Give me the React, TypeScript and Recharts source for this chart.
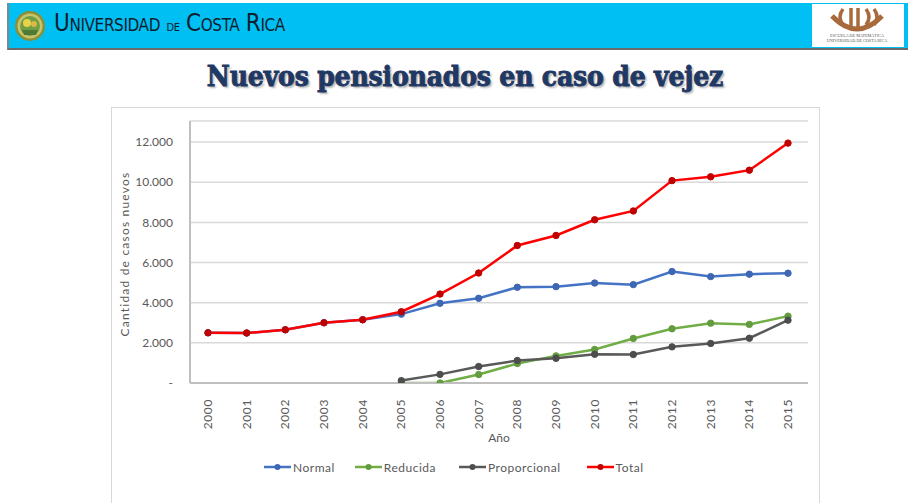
import React from 'react';
import { LineChart, Line, XAxis, YAxis, CartesianGrid, Legend } from 'recharts';

const years = ['2000','2001','2002','2003','2004','2005','2006','2007','2008','2009','2010','2011','2012','2013','2014','2015'];
const normal = [2500, 2490, 2650, 3000, 3150, 3430, 3970, 4220, 4770, 4800, 4980, 4900, 5550, 5300, 5420, 5470];
const reducida = [null, null, null, null, null, 0, 0, 420, 970, 1350, 1670, 2220, 2700, 2980, 2920, 3330];
const proporcional = [null, null, null, null, null, 120, 430, 820, 1120, 1230, 1430, 1420, 1800, 1970, 2230, 3130];
const total = [2500, 2490, 2650, 3000, 3150, 3550, 4430, 5480, 6850, 7350, 8130, 8570, 10080, 10270, 10600, 11950];
const yTicks = [0, 2000, 4000, 6000, 8000, 10000, 12000];

const series = [
  { key: 'Normal', values: normal, color: '#4472C4', dot: '#3d67b3' },
  { key: 'Reducida', values: reducida, color: '#70AD47', dot: '#639c3e' },
  { key: 'Proporcional', values: proporcional, color: '#595959', dot: '#4d4d4d' },
  { key: 'Total', values: total, color: '#FF0000', dot: '#c00000' },
];

const data = years.map((y, i) => {
  const row: any = { year: y };
  series.forEach((s) => { row[s.key] = s.values[i]; });
  return row;
});

const FONT = 'Lato, "Open Sans", sans-serif';
const TEXT = '#595959';

const fmt = (v: number) => (v === 0 ? '-' : v.toLocaleString('de-DE'));

const XTick = (props: any) => {
  const { x, y, payload } = props;
  return (
    <text
      x={0}
      y={0}
      transform={`translate(${x + 4},${y + 8}) rotate(-90)`}
      textAnchor="end"
      fontSize={12}
      fill={TEXT}
      fontFamily={FONT}
      letterSpacing={0.6}
    >
      {payload.value}
    </text>
  );
};

const YLabel = (props: any) => {
  const vb = props.viewBox || {};
  const cx = 17;
  const cy = (vb.y || 0) + (vb.height || 0) / 2 + 2;
  return (
    <text
      x={0}
      y={0}
      transform={`translate(${cx},${cy}) rotate(-90)`}
      textAnchor="middle"
      fontSize={12}
      fill={TEXT}
      fontFamily={FONT}
      letterSpacing={1.2}
    >
      Cantidad de casos nuevos
    </text>
  );
};

const XLabel = (props: any) => {
  const vb = props.viewBox || {};
  const cx = (vb.x || 0) + (vb.width || 0) / 2;
  return (
    <text x={cx} y={(vb.y || 0) + 59} textAnchor="middle" fontSize={12} fill={TEXT} fontFamily={FONT}>
      Año
    </text>
  );
};

const LegendContent = () => (
  <div style={{ display: 'flex', alignItems: 'center', height: 20, fontFamily: FONT, fontSize: 12, color: TEXT, whiteSpace: 'nowrap' }}>
    {series.map((s, i) => (
      <div key={s.key} style={{ display: 'flex', alignItems: 'center', marginRight: i === 0 ? 20 : i === 1 ? 23 : 26 }}>
        <svg width={27} height={10} style={{ marginRight: 2 }}>
          <line x1={0} y1={5} x2={27} y2={5} stroke={s.color} strokeWidth={2.5} />
          <circle cx={13.5} cy={5} r={3} fill={s.dot} />
        </svg>
        <span style={{ letterSpacing: 0.5 }}>{s.key}</span>
      </div>
    ))}
  </div>
);

const Seal = () => (
  <svg width={32} height={32} viewBox="0 0 32 32">
    <circle cx={16} cy={16} r={15} fill="#8a8f3a" />
    <circle cx={16} cy={16} r={12.5} fill="#c9c46a" />
    <circle cx={16} cy={16} r={10} fill="#6f9e45" />
    <circle cx={13} cy={13} r={4} fill="#e8d24a" />
    <path d="M8 20 L24 20 L22 25 L10 25 Z" fill="#4f7a34" />
    <circle cx={20} cy={14} r={3} fill="#d9b84a" />
  </svg>
);

const MathLogo = () => (
  <svg width={90} height={43} viewBox="0 0 90 43">
    <path d="M20 12 Q45 38 70 12" stroke="#a86a3c" strokeWidth={5} fill="none" />
    <path d="M31 5 Q25 13 31 21" stroke="#a86a3c" strokeWidth={3.5} fill="none" />
    <line x1={39} y1={4} x2={39} y2={22} stroke="#a86a3c" strokeWidth={3.5} />
    <line x1={46} y1={4} x2={46} y2={23} stroke="#a86a3c" strokeWidth={3.5} />
    <path d="M54 5 Q60 13 54 21" stroke="#a86a3c" strokeWidth={3.5} fill="none" />
    <path d="M62 5 Q68 13 62 21" stroke="#a86a3c" strokeWidth={3.5} fill="none" />
    <text x={45} y={33} textAnchor="middle" fontSize={4.2} fill="#555" fontFamily="Liberation Serif, serif">ESCUELA DE MATEMÁTICA</text>
    <text x={45} y={38} textAnchor="middle" fontSize={4.2} fill="#555" fontFamily="Liberation Serif, serif">UNIVERSIDAD DE COSTA RICA</text>
  </svg>
);

export default function App() {
  return (
    <div style={{ position: 'absolute', left: 0, top: 0, width: 910, height: 503, background: '#ffffff', overflow: 'hidden' }}>
      {/* Header bar */}
      <div
        style={{
          position: 'absolute', left: 7, top: 3, width: 899, height: 45,
          background: '#00BFF2', borderLeft: '2px solid #7a8a90', borderBottom: '2px solid #6b6b6b',
        }}
      />
      <div style={{ position: 'absolute', left: 14, top: 10 }}>
        <Seal />
      </div>
      <div
        style={{
          position: 'absolute', left: 54, top: 9, fontFamily: '"Liberation Sans Narrow", "DejaVu Sans Condensed", sans-serif',
          fontSize: 24, color: '#0f1e2e', fontVariant: 'small-caps', letterSpacing: -0.4, whiteSpace: 'nowrap', lineHeight: '28px',
        }}
      >
        Universidad <span style={{ fontSize: 16 }}>de</span> Costa Rica
      </div>
      <div style={{ position: 'absolute', left: 812, top: 4, width: 92, height: 43, background: '#ffffff' }}>
        <MathLogo />
      </div>

      {/* Title */}
      <div
        style={{
          position: 'absolute', left: 0, top: 59, width: 930, textAlign: 'center',
          fontFamily: '"DejaVu Serif Condensed", "DejaVu Serif", serif', fontWeight: 900, fontSize: 28,
          color: '#1F3864', textShadow: '2px 2px 2px rgba(0,0,0,0.3)', lineHeight: '36px', letterSpacing: -0.2,
          WebkitTextStroke: '0.9px #1F3864',
        }}
      >
        Nuevos pensionados en caso de vejez
      </div>

      {/* Chart frame */}
      <div
        style={{
          position: 'absolute', left: 111, top: 107, width: 707, height: 400,
          borderLeft: '1px solid #d9d9d9', borderTop: '1px solid #d9d9d9', borderRight: '1px solid #d9d9d9',
        }}
      >
        <LineChart
          width={707}
          height={396}
          data={data}
          margin={{ top: 13, right: 11, bottom: 0, left: 0 }}
        >
          <CartesianGrid horizontal vertical={false} stroke="#d9d9d9" strokeWidth={1.5} yAxisId={0} />
          <XAxis
            dataKey="year"
            height={101}
            padding={{ left: 18, right: 20 }}
            tickLine={false}
            axisLine={{ stroke: '#bfbfbf', strokeWidth: 2 }}
            tick={<XTick />}
            interval={0}
            label={<XLabel />}
          />
          <XAxis
            xAxisId="top"
            dataKey="year"
            orientation="top"
            height={0}
            tick={false}
            tickLine={false}
            axisLine={{ stroke: '#bfbfbf', strokeWidth: 2 }}
          />
          <YAxis
            width={78}
            domain={[0, 13050]}
            ticks={yTicks}
            tickFormatter={fmt}
            tickLine={false}
            tickSize={0}
            tickMargin={17}
            axisLine={{ stroke: '#bfbfbf', strokeWidth: 2 }}
            tick={{ fontSize: 12, fill: TEXT, fontFamily: FONT }}
            label={<YLabel />}
            allowDataOverflow
          />
          <YAxis
            yAxisId="right"
            orientation="right"
            width={0}
            tick={false}
            tickLine={false}
            axisLine={{ stroke: '#bfbfbf', strokeWidth: 2 }}
          />
          <Legend
            verticalAlign="bottom"
            content={<LegendContent />}
            wrapperStyle={{ position: 'absolute', left: 152, top: 349, height: 20, width: 'auto' }}
          />
          {series.map((s) => (
            <Line
              key={s.key}
              dataKey={s.key}
              stroke={s.color}
              strokeWidth={2.5}
              dot={{ r: 3.2, fill: s.dot, stroke: s.dot, strokeWidth: 1 }}
              activeDot={false}
              isAnimationActive={false}
              connectNulls={false}
            />
          ))}
        </LineChart>
      </div>
    </div>
  );
}
